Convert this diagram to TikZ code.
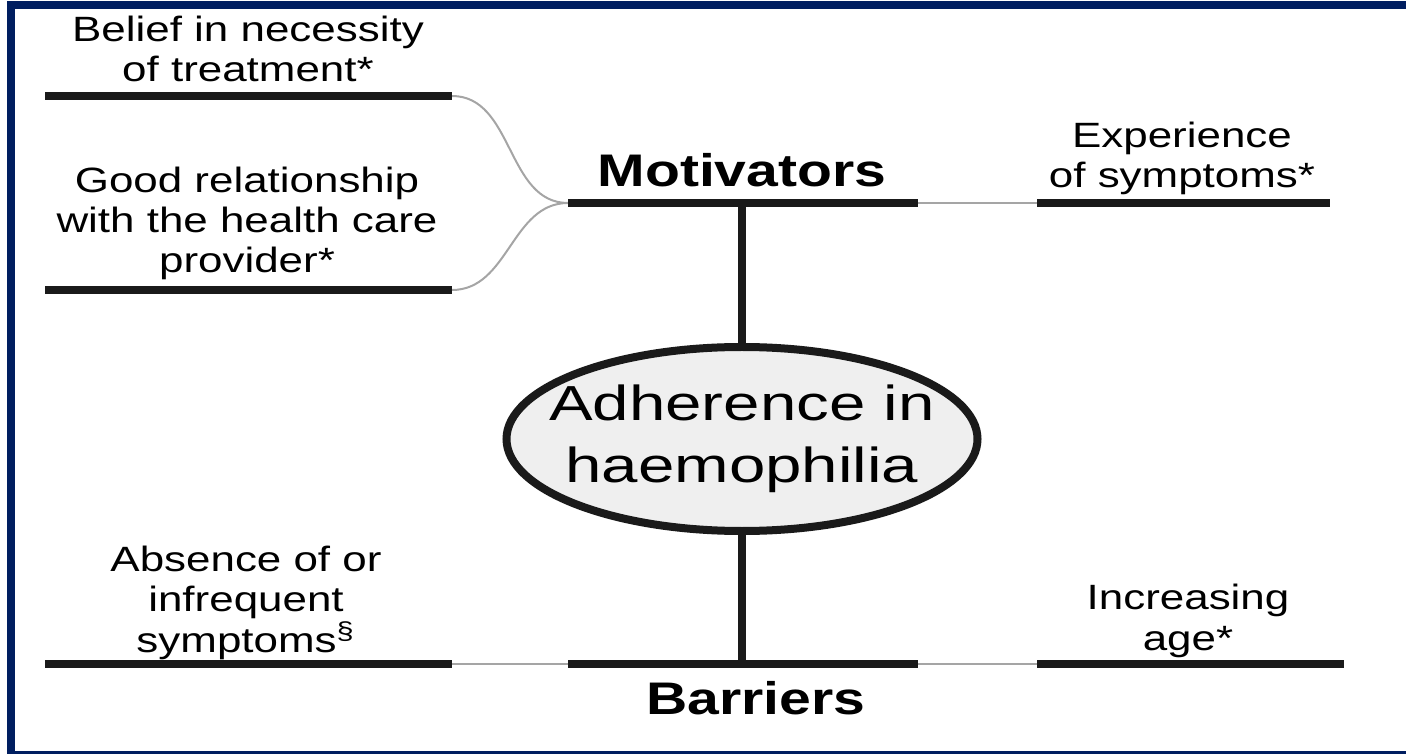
\documentclass[tikz,border=0pt]{standalone}
\usepackage{fontspec}
\setmainfont{Liberation Sans}[FakeStretch=1.25]
\newfontfamily\hubfont{Liberation Sans}[FakeStretch=1.33]
\usetikzlibrary{calc, positioning, shapes.geometric}

\definecolor{framenavy}{RGB}{0,30,96}
\definecolor{barblack}{RGB}{26,26,26}
\definecolor{linkgrey}{RGB}{165,165,165}
\definecolor{hubfill}{RGB}{239,239,239}

\begin{document}
\begin{tikzpicture}[
    bar/.style={draw=barblack, line width=0.08cm},
    link/.style={draw=linkgrey, line width=0.02cm},
    factor/.style={align=center, inner sep=0pt, anchor=base, font=\fontsize{10}{11.5}\selectfont},
    heading/.style={inner sep=0pt, anchor=base, font=\fontsize{13}{14}\selectfont\bfseries},
    hub/.style={ellipse, draw=barblack, line width=0.08cm, fill=hubfill, minimum width=4.71cm, minimum height=1.84cm, inner sep=0pt}
  ]
  \useasboundingbox (0,0) rectangle (14.06,-7.54);
  \draw[framenavy, line width=0.08cm] (0.11,-0.055) rectangle (14.3,-7.545);

  % bar end points
  \coordinate (belief-l) at (0.45,-0.96);   \coordinate (belief-r) at (4.52,-0.96);
  \coordinate (relation-l) at (0.45,-2.90); \coordinate (relation-r) at (4.52,-2.90);
  \coordinate (motiv-l) at (5.68,-2.03);    \coordinate (motiv-r) at (9.18,-2.03);
  \coordinate (motiv-m) at (7.42,-2.03);
  \coordinate (exper-l) at (10.37,-2.03);   \coordinate (exper-r) at (13.30,-2.03);
  \coordinate (absence-l) at (0.45,-6.64);  \coordinate (absence-r) at (4.52,-6.64);
  \coordinate (barr-l) at (5.68,-6.64);     \coordinate (barr-r) at (9.18,-6.64);
  \coordinate (barr-m) at (7.42,-6.64);
  \coordinate (age-l) at (10.37,-6.64);     \coordinate (age-r) at (13.44,-6.64);

  % centre
  \node[hub] (core) at (7.42,-4.39) {};
  \node[inner sep=0pt, align=center, font=\hubfont\fontsize{14}{17.6}\selectfont] (coretext) at (core.center) {Adherence in\\haemophilia};

  % thin links
  \draw[link] (belief-r) to[out=0, in=180] (motiv-l);
  \draw[link] (relation-r) to[out=0, in=180] (motiv-l);
  \draw[link] (motiv-r) -- (exper-l);
  \draw[link] (absence-r) -- (barr-l);
  \draw[link] (barr-r) -- (age-l);

  % thick bars
  \draw[bar] (belief-l) -- (belief-r);
  \draw[bar] (relation-l) -- (relation-r);
  \draw[bar] (motiv-l) -- (motiv-r);
  \draw[bar] (exper-l) -- (exper-r);
  \draw[bar] (absence-l) -- (absence-r);
  \draw[bar] (barr-l) -- (barr-r);
  \draw[bar] (age-l) -- (age-r);
  \draw[bar] (motiv-m) -- (core.north);
  \draw[bar] (core.south) -- (barr-m);

  % labels
  \node[heading] (motiv) at (7.42,-1.87) {Motivators};
  \node[heading] (barr) at (7.56,-7.14) {Barriers};
  \node[factor] (belief) at (2.48,-0.82) {Belief in necessity\\of treatment*};
  \node[factor] (relation) at (2.47,-2.73) {Good relationship\\with the health care\\provider*};
  \node[factor] (exper) at (11.82,-1.88) {Experience\\of symptoms*};
  \node[factor] (absence) at (2.46,-6.52) {Absence of or\\infrequent\\symptoms\textsuperscript{\S}};
  \node[factor] (age) at (11.88,-6.50) {Increasing\\age*};
\end{tikzpicture}
\end{document}
